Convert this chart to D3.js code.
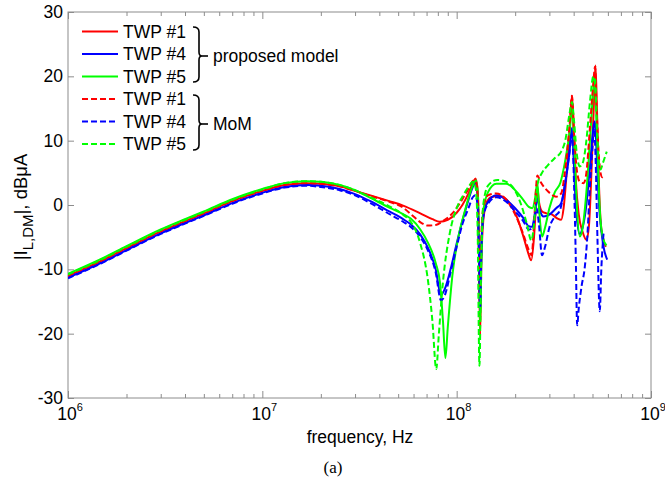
<!DOCTYPE html>
<html>
<head>
<meta charset="utf-8">
<script src="https://cdn.jsdelivr.net/npm/d3@7"></script>
<style>
body { margin: 0; background: #fff; }
text { font-family: "Liberation Sans", Arial, sans-serif; fill: #000; }
</style>
</head>
<body>
<div id="graph"></div>
<script>
// values: [frequency in Hz, |I_L,DM| in dBuA]
var redSolid = [[1e6,-11.0],[1.5e6,-8.6],[2e6,-6.7],[3e6,-4.1],[4e6,-2.5],[5e6,-1.3],[7e6,0.6],[1e7,2.2],[1.3e7,3.1],[1.7e7,3.4],[2e7,3.3],[2.5e7,2.9],[3e7,2.2],[3.6e7,1.5],[4.5e7,0.6],[5.3e7,-0.1],[6.5e7,-1.3],[7.5e7,-2.2],[8.2e7,-2.6],[9e7,-2.3],[1e8,-1.2],[1.07e8,0],[1.15e8,1.8],[1.21e8,3.4],[1.25e8,4.1],[1.28e8,2.5],[1.3e8,-6],[1.32e8,-20.3],[1.34e8,-9],[1.37e8,-2.5],[1.42e8,0.2],[1.5e8,1.2],[1.67e8,1.4],[1.88e8,0.2],[2.05e8,-2],[2.2e8,-4.8],[2.32e8,-7.2],[2.42e8,-8.6],[2.5e8,-5],[2.56e8,0],[2.6e8,2.8],[2.65e8,0.5],[2.75e8,-1],[2.9e8,-1.3],[3.1e8,-1.5],[3.3e8,-2.1],[3.45e8,-2.3],[3.55e8,-0.5],[3.66e8,4],[3.8e8,11],[3.92e8,17],[4.0e8,12],[4.1e8,4],[4.25e8,-1.5],[4.45e8,-4.2],[4.65e8,-5.4],[4.8e8,-3],[4.95e8,6],[5.1e8,17],[5.18e8,21.7],[5.28e8,14],[5.4e8,3],[5.52e8,-3],[5.65e8,-5],[5.85e8,-6.5]];
var blueSolid = [[1e6,-11.3],[1.5e6,-8.9],[2e6,-7.0],[3e6,-4.4],[4e6,-2.8],[5e6,-1.6],[7e6,0.3],[1e7,1.9],[1.3e7,2.8],[1.7e7,3.1],[2e7,3.0],[2.5e7,2.5],[3e7,1.7],[3.6e7,0.6],[4.5e7,-1.0],[5.3e7,-2.2],[5.8e7,-3.0],[6.5e7,-4.6],[7.1e7,-6.6],[7.8e7,-10],[8.3e7,-14],[8.7e7,-13],[9.3e7,-10],[1e8,-6],[1.07e8,-2.5],[1.15e8,0.8],[1.21e8,2.8],[1.25e8,3.5],[1.28e8,1.5],[1.3e8,-6],[1.32e8,-17],[1.34e8,-7],[1.37e8,-1.5],[1.45e8,0.5],[1.6e8,1.5],[1.8e8,0.8],[2.0e8,-0.5],[2.2e8,-2],[2.35e8,-3.3],[2.45e8,-3.4],[2.52e8,-1.5],[2.6e8,1],[2.68e8,-0.8],[2.8e8,-1.8],[3.0e8,-1.5],[3.25e8,-0.5],[3.45e8,0.3],[3.6e8,3],[3.8e8,8],[3.92e8,12],[4.0e8,7],[4.12e8,-1],[4.3e8,-4.5],[4.45e8,-3.5],[4.65e8,0],[4.85e8,6],[5.05e8,12],[5.15e8,13],[5.25e8,8],[5.4e8,0],[5.55e8,-4],[5.7e8,-6.5],[5.95e8,-8.5]];
var greenSolid = [[1e6,-10.7],[1.5e6,-8.3],[2e6,-6.4],[3e6,-3.8],[4e6,-2.2],[5e6,-1.0],[7e6,0.9],[1e7,2.5],[1.3e7,3.4],[1.7e7,3.7],[2e7,3.6],[2.5e7,3.1],[3e7,2.3],[3.6e7,1.1],[4.5e7,-0.4],[5.3e7,-1.4],[5.8e7,-2.1],[6.5e7,-3.8],[7.1e7,-5.8],[7.8e7,-9],[8.2e7,-12],[8.5e7,-18],[8.75e7,-23.8],[9e7,-19],[9.5e7,-11],[1.02e8,-5],[1.1e8,-1],[1.17e8,1.8],[1.22e8,3.3],[1.26e8,3.8],[1.29e8,1],[1.31e8,-8],[1.325e8,-18],[1.34e8,-8],[1.37e8,-1],[1.45e8,2],[1.6e8,3.3],[1.8e8,3.3],[2.0e8,2.3],[2.2e8,0.8],[2.35e8,-0.3],[2.45e8,-0.5],[2.53e8,1],[2.6e8,3.5],[2.66e8,-1],[2.75e8,-4.9],[2.85e8,-3.5],[3.0e8,-0.5],[3.2e8,2],[3.42e8,3.5],[3.6e8,6.5],[3.8e8,11],[3.93e8,15],[4.02e8,10],[4.15e8,0],[4.3e8,-4.9],[4.45e8,-3.5],[4.65e8,2],[4.85e8,10],[5.05e8,18],[5.15e8,20.5],[5.25e8,13],[5.38e8,3],[5.5e8,-2.5],[5.65e8,-5],[5.9e8,-6.3]];
var redDashed = [[1e6,-11.0],[1.5e6,-8.6],[2e6,-6.7],[3e6,-4.1],[4e6,-2.5],[5e6,-1.3],[7e6,0.6],[1e7,2.2],[1.3e7,3.1],[1.7e7,3.4],[2e7,3.3],[2.5e7,2.9],[3e7,2.2],[3.6e7,1.4],[4.5e7,0.5],[5.3e7,-0.4],[6e7,-1.8],[6.6e7,-2.8],[7.1e7,-3.2],[7.8e7,-3.1],[8.5e7,-2.5],[9.5e7,-1.3],[1.05e8,0.5],[1.15e8,2.5],[1.22e8,3.8],[1.26e8,3.5],[1.29e8,0],[1.315e8,-15],[1.335e8,-6],[1.37e8,-0.5],[1.45e8,1.5],[1.6e8,1.8],[1.8e8,0.8],[2.0e8,-1.5],[2.2e8,-4.5],[2.35e8,-7],[2.43e8,-7.8],[2.5e8,-3],[2.56e8,2.5],[2.6e8,4.6],[2.7e8,3.6],[2.85e8,2.6],[3.03e8,1.8],[3.25e8,1.3],[3.45e8,1.8],[3.6e8,5],[3.8e8,12],[3.92e8,17],[4.02e8,11],[4.15e8,5.5],[4.3e8,3.6],[4.5e8,3.4],[4.65e8,5],[4.85e8,12],[5.05e8,19],[5.15e8,21.5],[5.25e8,15],[5.38e8,8],[5.5e8,5],[5.62e8,4.3],[5.75e8,4.6]];
var blueDashed = [[1e6,-11.4],[1.5e6,-9.0],[2e6,-7.1],[3e6,-4.5],[4e6,-2.9],[5e6,-1.7],[7e6,0.2],[1e7,1.8],[1.3e7,2.7],[1.7e7,3.0],[2e7,2.8],[2.5e7,2.3],[3e7,1.5],[3.6e7,0.3],[4.5e7,-1.4],[5.3e7,-2.6],[5.8e7,-3.4],[6.5e7,-5],[7.1e7,-7],[7.8e7,-10.5],[8.3e7,-14.8],[8.7e7,-14],[9.3e7,-10.5],[1e8,-6.5],[1.07e8,-3],[1.15e8,-0.5],[1.21e8,1.2],[1.25e8,1.5],[1.28e8,0],[1.3e8,-6],[1.32e8,-16],[1.34e8,-7],[1.37e8,-2],[1.45e8,0.2],[1.6e8,1.2],[1.8e8,0.5],[2.0e8,-1],[2.2e8,-2.5],[2.35e8,-3.8],[2.45e8,-3.6],[2.52e8,-2],[2.58e8,-0.5],[2.65e8,-3],[2.75e8,-7.8],[2.85e8,-6.5],[3.0e8,-3.5],[3.2e8,-1.8],[3.4e8,-0.8],[3.6e8,3],[3.8e8,8],[3.92e8,11],[4.02e8,3],[4.1e8,-8],[4.17e8,-18.7],[4.25e8,-16],[4.4e8,-12.5],[4.55e8,-10],[4.7e8,-5],[4.85e8,3],[5.0e8,9],[5.1e8,12],[5.2e8,6],[5.3e8,-5],[5.45e8,-16.5],[5.55e8,-10],[5.7e8,-4.4]];
var greenDashed = [[1e6,-10.8],[1.5e6,-8.4],[2e6,-6.5],[3e6,-3.9],[4e6,-2.3],[5e6,-1.1],[7e6,0.8],[1e7,2.4],[1.3e7,3.4],[1.7e7,3.7],[2e7,3.6],[2.5e7,3.1],[3e7,2.3],[3.6e7,1.2],[4.5e7,-0.2],[5.3e7,-1.5],[5.8e7,-2.6],[6.5e7,-6],[7.1e7,-11.5],[7.5e7,-18],[7.85e7,-25.5],[8.1e7,-20],[8.5e7,-12],[9.2e7,-4.5],[1e8,-0.5],[1.08e8,1.5],[1.15e8,2.8],[1.21e8,3.6],[1.25e8,2.8],[1.28e8,-3],[1.31e8,-25],[1.335e8,-10],[1.37e8,0],[1.45e8,3],[1.62e8,3.9],[1.8e8,3.6],[2.0e8,2.2],[2.15e8,0],[2.3e8,-3],[2.42e8,-5.5],[2.5e8,-3],[2.56e8,1],[2.62e8,3.5],[2.75e8,5],[2.95e8,6.2],[3.2e8,7.3],[3.45e8,8.3],[3.62e8,10],[3.8e8,14],[3.92e8,16],[4.02e8,13],[4.15e8,8],[4.3e8,6],[4.45e8,6.5],[4.65e8,10],[4.85e8,16],[5.05e8,20],[5.15e8,19],[5.25e8,13],[5.38e8,7],[5.5e8,5.5],[5.65e8,6.5],[5.92e8,8.3]];

var legendNames = ["TWP #1", "TWP #4", "TWP #5", "TWP #1", "TWP #4", "TWP #5"];
var groupNames = ["proposed model", "MoM"];
var xMajor = [1e6, 1e7, 1e8, 1e9];
var xExponents = ["6", "7", "8", "9"];
var yTicks = [-30, -20, -10, 0, 10, 20, 30];

var width = 665, height = 483;
var plot = {left: 68, right: 651, top: 12, bottom: 398};
var axisGrey = "#8c8c8c";
var fontSize = "17.5px";

var svg = d3.select("#graph").append("svg")
    .attr("width", width)
    .attr("height", height);

var x = d3.scaleLog().domain([1e6, 1e9]).range([plot.left, plot.right]);
var y = d3.scaleLinear().domain([-30, 30]).range([plot.bottom, plot.top]);

// minor ticks 2..9 in every decade
var xMinor = [];
xMajor.slice(0, 3).forEach(function(d) {
    for (var k = 2; k < 10; k++) xMinor.push(d * k);
});

function ticks(axis, transform) {
    svg.append("g")
        .attr("transform", transform)
        .call(axis)
        .call(function(g) {
            g.select(".domain").remove();
            g.selectAll("text").remove();
            g.selectAll("line").attr("stroke", axisGrey);
        });
}
ticks(d3.axisBottom(x).tickValues(xMinor).tickSize(-4), "translate(0," + plot.bottom + ")");
ticks(d3.axisBottom(x).tickValues(xMajor).tickSize(-7), "translate(0," + plot.bottom + ")");
ticks(d3.axisTop(x).tickValues(xMinor).tickSize(-4), "translate(0," + plot.top + ")");
ticks(d3.axisTop(x).tickValues(xMajor).tickSize(-7), "translate(0," + plot.top + ")");
ticks(d3.axisLeft(y).tickValues(yTicks).tickSize(-6), "translate(" + plot.left + ",0)");
ticks(d3.axisRight(y).tickValues(yTicks).tickSize(-6), "translate(" + plot.right + ",0)");

svg.append("rect")
    .attr("x", plot.left).attr("y", plot.top)
    .attr("width", plot.right - plot.left)
    .attr("height", plot.bottom - plot.top)
    .attr("fill", "none")
    .attr("stroke", axisGrey);

// y tick labels
svg.selectAll(".ylab").data(yTicks).enter().append("text")
    .attr("x", plot.left - 5)
    .attr("y", function(d) { return y(d) + 6; })
    .attr("text-anchor", "end")
    .style("font-size", fontSize)
    .text(function(d) { return d; });

// x tick labels 10^n
var xl = svg.selectAll(".xlab").data(xMajor).enter().append("text")
    .attr("x", function(d) { return x(d) + 2; })
    .attr("y", 420)
    .attr("text-anchor", "middle")
    .style("font-size", fontSize);
xl.append("tspan").text("10");
xl.append("tspan").attr("dy", -9).style("font-size", "11px")
    .text(function(d, i) { return xExponents[i]; });

svg.append("text")
    .attr("x", 360).attr("y", 443)
    .attr("text-anchor", "middle")
    .style("font-size", fontSize)
    .text("frequency, Hz");

svg.append("text")
    .attr("x", 333).attr("y", 473)
    .attr("text-anchor", "middle")
    .style("font-family", "'Liberation Serif', 'Times New Roman', serif")
    .style("font-size", "17px")
    .text("(a)");

var yl = svg.append("text")
    .attr("transform", "translate(27,207) rotate(-90)")
    .attr("text-anchor", "middle")
    .style("font-size", "18.5px");
yl.append("tspan").text("|I");
yl.append("tspan").attr("dy", 6).style("font-size", "15px").text("L,DM");
yl.append("tspan").attr("dy", -6).text("|, dBμA");

// curves
svg.append("clipPath").attr("id", "clip").append("rect")
    .attr("x", plot.left).attr("y", plot.top)
    .attr("width", plot.right - plot.left).attr("height", plot.bottom - plot.top);

var line = d3.line()
    .x(function(d) { return x(d[0]); })
    .y(function(d) { return y(d[1]); })
    .curve(d3.curveMonotoneX);

var series = [
    {data: redSolid, color: "#ff0000", dash: null},
    {data: blueSolid, color: "#0000ff", dash: null},
    {data: greenSolid, color: "#00ff00", dash: null},
    {data: redDashed, color: "#ff0000", dash: "6,3"},
    {data: blueDashed, color: "#0000ff", dash: "6,3"},
    {data: greenDashed, color: "#00ff00", dash: "6,3"}
];

svg.append("g").attr("clip-path", "url(#clip)")
    .selectAll("path").data(series).enter().append("path")
    .attr("d", function(d) { return line(d.data); })
    .attr("fill", "none")
    .attr("stroke", function(d) { return d.color; })
    .attr("stroke-width", 2)
    .attr("stroke-dasharray", function(d) { return d.dash; });

// legend
var leg = svg.append("g");
series.forEach(function(s, i) {
    var ly = 31.5 + i * 22.5;
    leg.append("line")
        .attr("x1", 82).attr("x2", 118).attr("y1", ly).attr("y2", ly)
        .attr("stroke", s.color).attr("stroke-width", 2)
        .attr("stroke-dasharray", s.dash);
    leg.append("text")
        .attr("x", 123).attr("y", ly + 6)
        .style("font-size", fontSize)
        .text(legendNames[i]);
});

function brace(y0, y1, ym, label) {
    var x0 = 193, xv = 199;
    leg.append("path")
        .attr("d", "M" + x0 + "," + y0 + " Q" + xv + "," + y0 + " " + xv + "," + (y0 + 5) +
            " L" + xv + "," + (ym - 4) + " Q" + xv + "," + ym + " " + (xv + 3) + "," + ym +
            " Q" + xv + "," + ym + " " + xv + "," + (ym + 4) +
            " L" + xv + "," + (y1 - 5) + " Q" + xv + "," + y1 + " " + x0 + "," + y1)
        .attr("fill", "none").attr("stroke", "#000").attr("stroke-width", 1.6);
    leg.append("line")
        .attr("x1", xv + 3).attr("x2", xv + 9).attr("y1", ym).attr("y2", ym)
        .attr("stroke", "#000").attr("stroke-width", 1.6);
    leg.append("text")
        .attr("x", 213).attr("y", ym + 6)
        .style("font-size", fontSize)
        .text(label);
}
brace(27, 82, 56, groupNames[0]);
brace(95, 150, 124, groupNames[1]);
</script>
</body>
</html>
